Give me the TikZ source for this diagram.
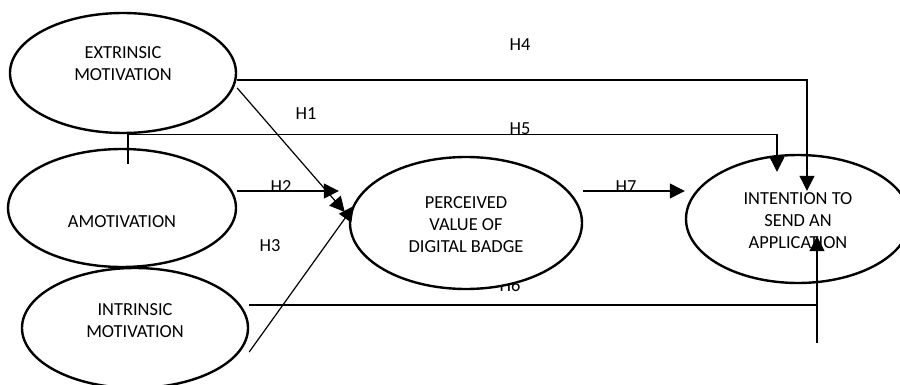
\documentclass[tikz,border=0pt]{standalone}
\usepackage{fontspec}
\setmainfont{Carlito}
\usetikzlibrary{shapes.geometric,arrows.meta}

\tikzset{
  oval/.style={ellipse,draw,line width=2.4pt,fill=white,inner sep=0pt},
  conn/.style={line width=1.2pt},
  arr/.style={conn,-{Triangle[length=15pt,width=15pt]}},
  hlab/.style={font=\fontsize{18.4}{22}\selectfont}
}

\begin{document}
\begin{tikzpicture}[x=1pt,y=-1pt]
        \useasboundingbox (0,0) rectangle (900,385);
        % H6 sits partly behind the middle oval
        \node[hlab] (lh6) at (510,285) {H6};

        \node[oval,minimum width=226pt,minimum height=120pt,
              label={[hlab,align=center,yshift=9pt]center:EXTRINSIC\\MOTIVATION}] (ext) at (123,73) {};
        \node[oval,minimum width=228pt,minimum height=118pt,
              label={[hlab,yshift=-14pt]center:AMOTIVATION}] (amo) at (122,208) {};
        \node[oval,minimum width=226pt,minimum height=120pt,
              label={[hlab,align=center,yshift=7pt]center:INTRINSIC\\MOTIVATION}] (intr) at (135,328) {};
        \node[oval,minimum width=232pt,minimum height=132pt,
              label={[hlab,align=center,yshift=-2pt]center:PERCEIVED\\VALUE OF\\DIGITAL BADGE}] (pvd) at (466,223) {};
        \node[oval,minimum width=224pt,minimum height=128pt,
              label={[hlab,align=center,yshift=-2pt]center:INTENTION TO\\SEND AN\\APPLICATION}] (isa) at (798,219) {};

        \draw[arr] ([yshift=-15pt]ext.east) -- ([xshift=-4pt,yshift=11pt]pvd.west);
        \draw[arr] ([yshift=17pt]amo.east) -- ([xshift=-10pt,yshift=32pt]pvd.west);
        \draw[arr] ([yshift=-24pt]intr.east) -- ([xshift=5pt,yshift=17pt]pvd.west);
        \draw[arr] ([yshift=-7pt]ext.east) -| ([xshift=9pt,yshift=-37pt]isa.north);
        \draw[arr] ([xshift=6pt,yshift=-16pt]amo.north) -- ([xshift=5pt]ext.south)
                   -| ([xshift=-21pt,yshift=-18pt]isa.north);
        \coordinate (h6foot) at ([xshift=19pt,yshift=-59pt]isa.south);
        \draw[conn] ([yshift=23pt]intr.east) -| (h6foot);
        \draw[arr] (h6foot) -- ([xshift=19pt,yshift=48pt]isa.south);
        \draw[arr] ([yshift=32pt]pvd.east) -- ([yshift=28pt]isa.west);

        \node[hlab] (lh1) at (306,114) {H1};
        \node[hlab] (lh2) at (281,187) {H2};
        \node[hlab] (lh3) at (270,246) {H3};
        \node[hlab] (lh4) at (520,45) {H4};
        \node[hlab] (lh5) at (520,129) {H5};
        \node[hlab] (lh7) at (626,187) {H7};
    \end{tikzpicture}
\end{document}
